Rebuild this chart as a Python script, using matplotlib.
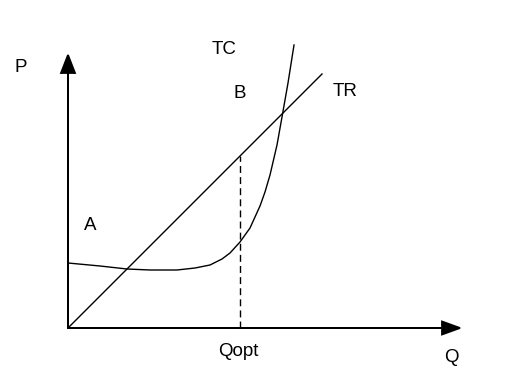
import matplotlib

matplotlib.use("Agg")
import matplotlib.pyplot as plt

# Total cost curve (Q, P)
tc_q = [0, 32, 59, 82, 109, 127, 142, 154, 162, 172, 182, 192, 197, 202, 209, 214, 220, 226]
tc_p = [65, 62, 59, 58, 58, 60, 63, 69, 75, 86, 100, 122, 136, 153, 183, 211, 245, 283]

# Total revenue: straight line through the origin
tr_q = [0, 254]
tr_p = [0, 254]

q_opt = 172

labels = ["P", "Q", "Qopt", "TC", "TR", "A", "B"]
label_pos = [(-47, 260), (383, -29), (170, -24), (156, 279), (277, 237), (22, 103), (172, 235)]

fig = plt.figure(figsize=(5.11, 3.78), dpi=100)
ax = fig.add_axes([0, 0, 1, 1])
ax.set_xlim(-68, 443)
ax.set_ylim(-50, 328)
ax.axis("off")

# axes with arrow heads
ax.arrow(0, 0, 0, 273, head_width=14, head_length=18, length_includes_head=True,
         fc="black", ec="black", lw=1.3)
ax.arrow(0, 0, 392, 0, head_width=13, head_length=18, length_includes_head=True,
         fc="black", ec="black", lw=1.3)

ax.plot(tr_q, tr_p, color="black", lw=1)
ax.plot(tc_q, tc_p, color="black", lw=1, solid_joinstyle="round")

tr_at_opt = q_opt * tr_p[1] / tr_q[1]
ax.plot([q_opt, q_opt], [0, tr_at_opt], color="black", lw=1, dashes=(5, 3))

for text, (x, y) in zip(labels, label_pos):
    ax.text(x, y, text, ha="center", va="center", fontsize=13.5, family="Liberation Sans")

fig.savefig("out.png", dpi=100)
